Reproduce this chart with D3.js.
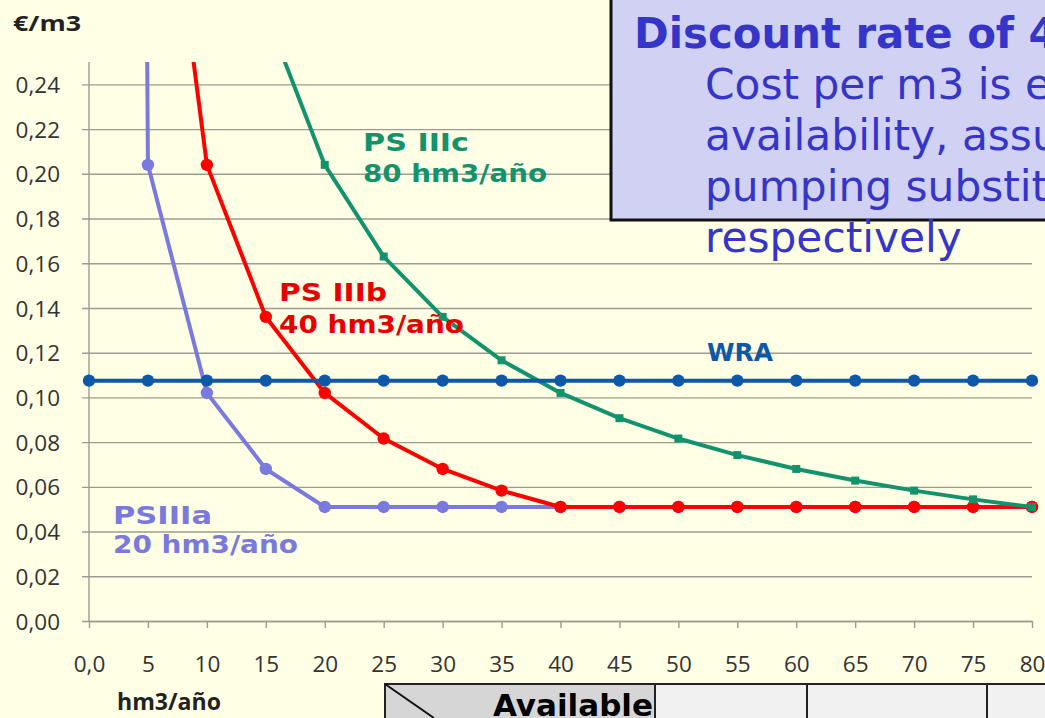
<!DOCTYPE html>
<html>
<head>
<meta charset="utf-8">
<script src="https://cdn.jsdelivr.net/npm/d3@7"></script>
<style>
  html, body { margin: 0; padding: 0; background: #FFFFE6; overflow: hidden; }
  svg { display: block; }
</style>
</head>
<body>
<svg id="chart" width="1045" height="718"></svg>
<script>
// Water availability (hm3/año) on the category axis
const availability = [0, 5, 10, 15, 20, 25, 30, 35, 40, 45, 50, 55, 60, 65, 70, 75, 80];
const xTickLabels = ["0,0", "5", "10", "15", "20", "25", "30", "35", "40", "45", "50", "55", "60", "65", "70", "75", "80"];
const yTickValues = [0, 0.02, 0.04, 0.06, 0.08, 0.10, 0.12, 0.14, 0.16, 0.18, 0.20, 0.22, 0.24];
const yTickLabels = ["0,00", "0,02", "0,04", "0,06", "0,08", "0,10", "0,12", "0,14", "0,16", "0,18", "0,20", "0,22", "0,24"];

// Cost per m3 (€/m3) for each alternative
const wra    = [0.1075, 0.1075, 0.1075, 0.1075, 0.1075, 0.1075, 0.1075, 0.1075, 0.1075, 0.1075, 0.1075, 0.1075, 0.1075, 0.1075, 0.1075, 0.1075, 0.1075];
const psIIIa = [4.08, 0.204, 0.102, 0.068, 0.051, 0.051, 0.051, 0.051, 0.051, 0.051, 0.051, 0.051, 0.051, 0.051, 0.051, 0.051, 0.051];
const psIIIb = [4.08, 0.408, 0.204, 0.136, 0.102, 0.0816, 0.068, 0.0583, 0.051, 0.051, 0.051, 0.051, 0.051, 0.051, 0.051, 0.051, 0.051];
const psIIIc = [4.08, 0.816, 0.408, 0.272, 0.204, 0.163, 0.136, 0.1166, 0.102, 0.0907, 0.0816, 0.0742, 0.068, 0.0628, 0.0583, 0.0544, 0.051];

const seriesNames = ["PSIIIa", "PS IIIb", "PS IIIc", "WRA"];
const seriesData = [psIIIa, psIIIb, psIIIc, wra];
const seriesColors = ["#7A7ADE", "#FF0000", "#13936D", "#0E58A8"];
const seriesMarkers = ["circle", "circle", "square", "circle"];

const boxTitle = "Discount rate of 4%";
const boxLines = ["Cost per m3 is estimated", "availability, assuming", "pumping substitution", "respectively"];

const svg = d3.select("#chart");
const W = 1045, H = 718;

svg.append("rect").attr("width", W).attr("height", H).attr("fill", "#FFFFE6");

const x = d3.scaleLinear().domain([0, 80]).range([89, 1032]);
const y = d3.scaleLinear().domain([0, 0.25]).range([621, 62]);

// Horizontal gridlines with short ticks to the left of the axis
const yAxis = d3.axisLeft(y)
  .tickValues(yTickValues)
  .tickFormat((d, i) => yTickLabels[i])
  .tickSizeInner(-(x(80) - x(0)))
  .tickSizeOuter(0)
  .tickPadding(29);
const gy = svg.append("g").attr("transform", `translate(${x(0)},0)`).call(yAxis);
gy.select(".domain").remove();
gy.selectAll(".tick line").attr("x1", -7).attr("stroke", "#9C9C90").attr("stroke-width", 1.4);
gy.selectAll(".tick text")
  .attr("font-family", "'Open Sans', sans-serif")
  .attr("font-size", 22.5)
  .attr("fill", "#333")
  .attr("dy", "0.36em");

// Vertical axis line
svg.append("line")
  .attr("x1", x(0)).attr("x2", x(0))
  .attr("y1", y(0.25)).attr("y2", y(0))
  .attr("stroke", "#9C9C90").attr("stroke-width", 1.4);

// Category axis
const xAxis = d3.axisBottom(x)
  .tickValues(availability)
  .tickFormat((d, i) => xTickLabels[i])
  .tickSizeInner(7)
  .tickSizeOuter(0)
  .tickPadding(0);
const gx = svg.append("g").attr("transform", `translate(0,${y(0)})`).call(xAxis);
gx.select(".domain").attr("stroke", "#9C9C90").attr("stroke-width", 1.4);
gx.selectAll(".tick line").attr("stroke", "#9C9C90").attr("stroke-width", 1.4);
gx.selectAll(".tick text")
  .attr("font-family", "'Open Sans', sans-serif")
  .attr("font-size", 22.5)
  .attr("fill", "#333")
  .attr("y", 51).attr("dy", 0);

// Plot clip so curves leave through the top edge
svg.append("clipPath").attr("id", "plotClip")
  .append("rect").attr("x", 0).attr("y", y(0.25)).attr("width", W).attr("height", 600);

const plot = svg.append("g").attr("clip-path", "url(#plotClip)");
const line = d3.line().x((d, i) => x(availability[i])).y(d => y(d));

seriesData.forEach((vals, s) => {
  const g = plot.append("g");
  g.append("path")
    .datum(vals)
    .attr("d", line)
    .attr("fill", "none")
    .attr("stroke", seriesColors[s])
    .attr("stroke-width", 4)
    .attr("stroke-linejoin", "round");
  if (seriesMarkers[s] === "circle") {
    g.selectAll("circle").data(vals).join("circle")
      .attr("cx", (d, i) => x(availability[i]))
      .attr("cy", d => y(d))
      .attr("r", 6.2)
      .attr("fill", seriesColors[s]);
  } else {
    g.selectAll("rect").data(vals).join("rect")
      .attr("x", (d, i) => x(availability[i]) - 4)
      .attr("y", d => y(d) - 4)
      .attr("width", 8).attr("height", 8)
      .attr("fill", seriesColors[s]);
  }
});

// Series labels
function label(txt, px, py, len, color) {
  svg.append("text")
    .attr("x", px).attr("y", py)
    .attr("font-family", "'DejaVu Sans', Verdana, sans-serif")
    .attr("font-weight", "bold")
    .attr("font-size", 24)
    .attr("fill", color)
    .attr("textLength", len)
    .attr("lengthAdjust", "spacingAndGlyphs")
    .text(txt);
}
label("PS IIIc", 363, 151, 106, seriesColors[2]);
label("80 hm3/año", 363, 182, 184, seriesColors[2]);
label("PS IIIb", 279, 301, 108, "#E80000");
label("40 hm3/año", 279, 333, 185, "#E80000");
label("PSIIIa", 113, 524, 99, seriesColors[0]);
label("20 hm3/año", 113, 553, 185, seriesColors[0]);
label("WRA", 707, 361, 66, seriesColors[3]);

// Axis titles
svg.append("text")
  .attr("x", 13).attr("y", 31)
  .attr("font-family", "'Open Sans', sans-serif")
  .attr("font-weight", "bold").attr("font-size", 22)
  .attr("fill", "#222")
  .attr("textLength", 68).attr("lengthAdjust", "spacingAndGlyphs")
  .text("€/m3");
svg.append("text")
  .attr("x", 117).attr("y", 710)
  .attr("font-family", "'Open Sans', sans-serif")
  .attr("font-weight", "bold").attr("font-size", 23)
  .attr("fill", "#222")
  .attr("textLength", 104).attr("lengthAdjust", "spacingAndGlyphs")
  .text("hm3/año");

// Note box in the upper right
svg.append("rect")
  .attr("x", 611).attr("y", -10).attr("width", 460).attr("height", 230)
  .attr("fill", "#D0D1F3").attr("stroke", "#111").attr("stroke-width", 3);
svg.append("text")
  .attr("x", 634).attr("y", 48)
  .attr("font-family", "'DejaVu Sans', Verdana, sans-serif")
  .attr("font-weight", "bold").attr("font-size", 41.8)
  .attr("fill", "#3535C9")
  .text(boxTitle);
boxLines.forEach((t, i) => {
  svg.append("text")
    .attr("x", 705).attr("y", 99 + i * 51)
    .attr("font-family", "'DejaVu Sans', Verdana, sans-serif")
    .attr("font-size", 42.3)
    .attr("fill", "#3535C9")
    .text(t);
});

// Table strip along the bottom edge
const table = svg.append("g");
table.append("rect").attr("x", 385).attr("y", 684).attr("width", 270).attr("height", 50)
  .attr("fill", "#D6D6D6").attr("stroke", "#222").attr("stroke-width", 2);
[[655, 152], [807, 180], [987, 80]].forEach(([cx, cw]) => {
  table.append("rect").attr("x", cx).attr("y", 684).attr("width", cw).attr("height", 50)
    .attr("fill", "#F1F1F1").attr("stroke", "#222").attr("stroke-width", 2);
});
table.append("line").attr("x1", 385).attr("y1", 684).attr("x2", 434).attr("y2", 718)
  .attr("stroke", "#111").attr("stroke-width", 2);
table.append("text")
  .attr("x", 653).attr("y", 716).attr("text-anchor", "end")
  .attr("font-family", "'DejaVu Sans', Verdana, sans-serif")
  .attr("font-weight", "bold").attr("font-size", 31)
  .attr("fill", "#000")
  .text("Available");
</script>
</body>
</html>
